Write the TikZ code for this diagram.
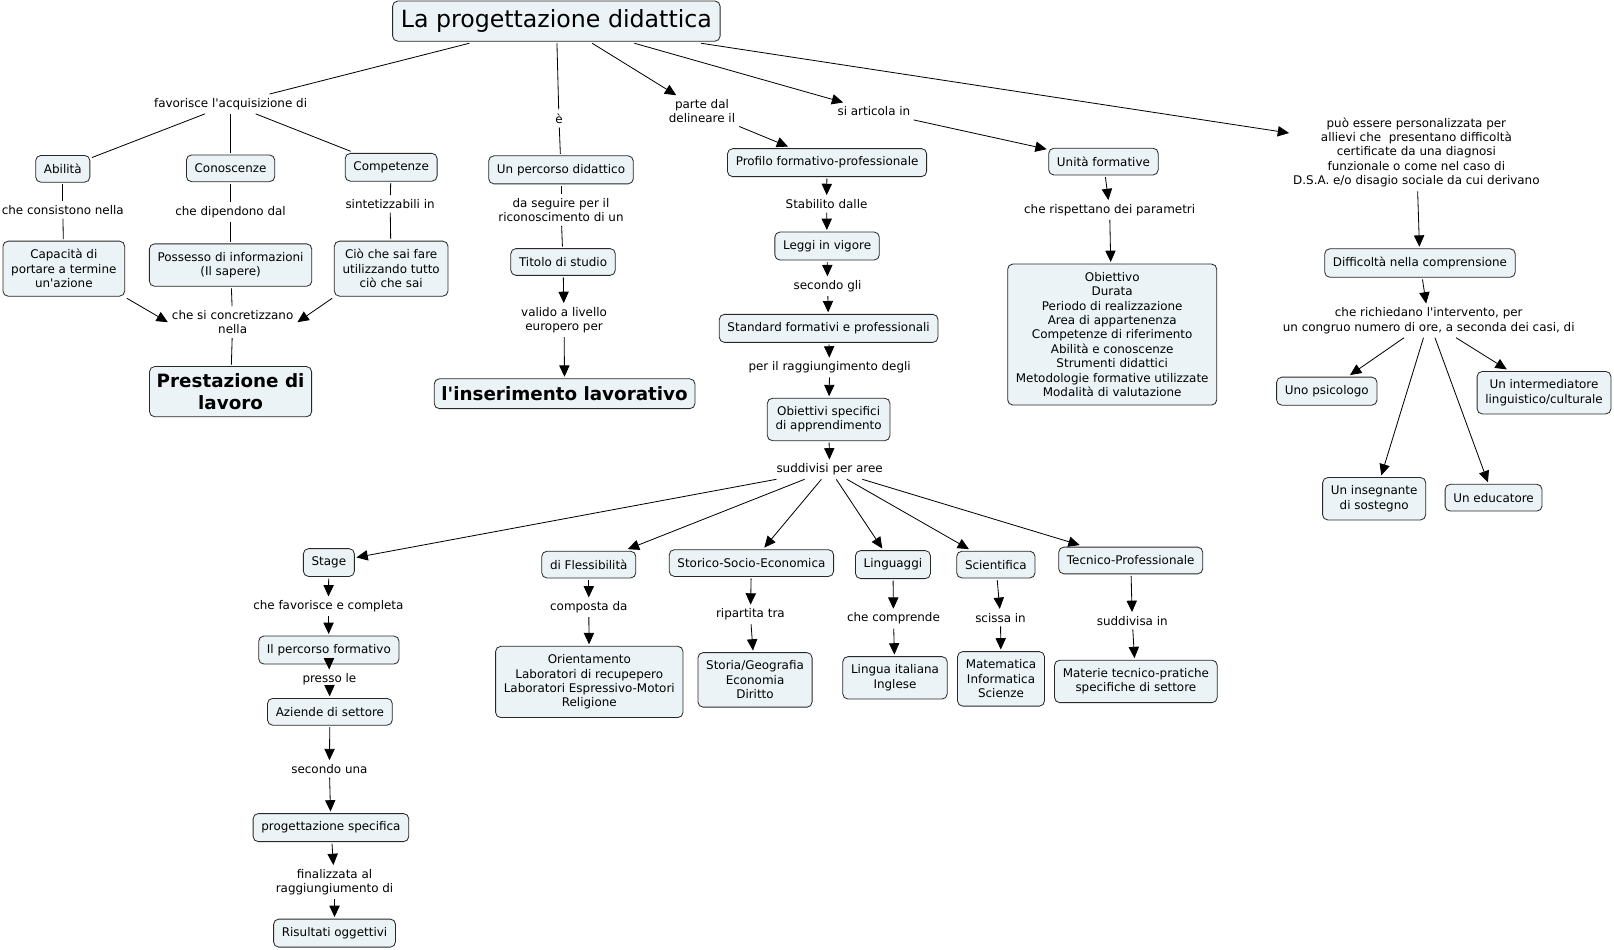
\documentclass[tikz,border=0pt]{standalone}
\usepackage{fontspec}
\setmainfont{DejaVu Sans}
\usepackage{tikz}
\usetikzlibrary{arrows.meta,positioning}
\definecolor{boxfill}{RGB}{235,243,246}
\definecolor{boxline}{RGB}{40,40,40}
\tikzset{
  concept/.style={draw=boxline,line width=0.8pt,rounded corners=5pt,fill=boxfill,
    align=center,inner xsep=8pt,inner ysep=8pt,outer sep=2pt,minimum height=26pt,
    font=\fontsize{11.6}{14}\selectfont},
  titlebox/.style={concept,font=\fontsize{23}{27}\selectfont,minimum height=39pt,
    inner ysep=6pt},
  bigconcept/.style={concept,font=\fontsize{17.8}{21}\selectfont\bfseries,
    inner xsep=7pt,inner ysep=7pt,minimum height=29pt},
  linkword/.style={align=center,inner sep=3pt,outer sep=1pt,
    font=\fontsize{11.6}{14}\selectfont},
  link/.style={line width=0.8pt,draw=black},
  flow/.style={link,-{Triangle[length=11pt,width=10pt]}}
}
\newcommand{\apos}{\textquotesingle}

\begin{document}
\begin{tikzpicture}[x=1pt,y=-1pt]
  \useasboundingbox (0,0) rectangle (1568,922);
  \node[titlebox] (title) at (540.5,20.5) {La progettazione didattica};

  \node[linkword] (favorisce) at (224,101) {favorisce l\apos acquisizione di};
  \node[concept] (abilita) at (61,164) {Abilità};
  \node[concept] (conoscenze) at (224,163.5) {Conoscenze};
  \node[concept] (competenze) at (380,162.5) {Competenze};
  \node[linkword] (consistono) at (61,204) {che consistono nella};
  \node[linkword] (dipendono) at (224,206) {che dipendono dal};
  \node[linkword] (sintetizzabili) at (379,198) {sintetizzabili in};
  \node[concept] (capacita) at (62,261) {Capacità di\\portare a termine\\un\apos azione};
  \node[concept] (possesso) at (224,257.5) {Possesso di informazioni\\(Il sapere)};
  \node[concept] (ciochesai) at (380,261) {Ciò che sai fare\\utilizzando tutto\\ciò che sai};
  \node[linkword] (concretizzano) at (226,313) {che si concretizzano\\nella};
  \node[bigconcept] (prestazione) at (224,380.5) {Prestazione di\\lavoro};

  \node[linkword] (eword) at (543,115) {è};
  \node[concept] (percorso) at (545,165) {Un percorso didattico};
  \node[linkword] (seguire) at (545,204) {da seguire per il\\riconoscimento di un};
  \node[concept] (titolo) at (547,254.5) {Titolo di studio};
  \node[linkword] (valido) at (548,311) {valido a livello\\europero per};
  \node[bigconcept] (inserimento) at (548.5,382.5) {l\apos inserimento lavorativo};

  \node[linkword] (parte) at (682,108) {parte dal\\delineare il};
  \node[linkword] (articola) at (849,108) {si articola in};
  \node[concept] (profilo) at (803.5,158) {Profilo formativo-professionale};
  \node[linkword] (stabilito) at (803,198) {Stabilito dalle};
  \node[concept] (leggi) at (803.5,239) {Leggi in vigore};
  \node[linkword] (secondogli) at (804,278) {secondo gli};
  \node[concept] (standard) at (805,319) {Standard formativi e professionali};
  \node[linkword] (raggiungimento) at (806,357) {per il raggiungimento degli};
  \node[concept] (obiettivi) at (805,407.5) {Obiettivi specifici\\di apprendimento};
  \node[linkword] (suddivisi) at (806,456) {suddivisi per aree};

  \node[concept] (unita) at (1072,157) {Unità formative};
  \node[linkword] (rispettano) at (1078,204) {che rispettano dei parametri};
  \node[concept] (parametri) at (1080.5,325) {Obiettivo\\Durata\\Periodo di realizzazione\\
    Area di appartenenza\\Competenze di riferimento\\Abilità e conoscenze\\
    Strumenti didattici\\Metodologie formative utilizzate\\Modalità di valutazione};

  \node[linkword] (personalizzata) at (1376,148) {può essere personalizzata per\\
    allievi che\ \ presentano difficoltà\\certificate da una diagnosi\\
    funzionale o come nel caso di\\D.S.A. e/o disagio sociale da cui derivano};
  \node[concept] (difficolta) at (1379.5,255.5) {Difficoltà nella comprensione};
  \node[linkword] (richiedano) at (1388,311.5) {che richiedano l\apos intervento, per\\
    un congruo numero di ore, a seconda dei casi, di};
  \node[concept] (psicologo) at (1289,380) {Uno psicologo};
  \node[concept] (intermediatore) at (1500,381.5) {Un intermediatore\\linguistico/culturale};
  \node[concept] (insegnante) at (1335,484.5) {Un insegnante\\di sostegno};
  \node[concept] (educatore) at (1451,483.5) {Un educatore};

  \node[concept] (stage) at (319.5,546.5) {Stage};
  \node[linkword] (favcompleta) at (319,589) {che favorisce e completa};
  \node[concept] (percform) at (319.5,631.5) {Il percorso formativo};
  \node[linkword] (presso) at (320,660) {presso le};
  \node[concept] (aziende) at (320.5,691.5) {Aziende di settore};
  \node[linkword] (secondouna) at (320,747) {secondo una};
  \node[concept] (progspec) at (321.5,804) {progettazione specifica};
  \node[linkword] (finalizzata) at (325,857) {finalizzata al\\raggiungiumento di};
  \node[concept] (risultati) at (325,906.5) {Risultati oggettivi};

  \node[concept] (flessibilita) at (572,548.5) {di Flessibilità};
  \node[linkword] (composta) at (572,590) {composta da};
  \node[concept] (orientamento) at (572.5,662.5) {Orientamento\\Laboratori di recupepero\\
    Laboratori Espressivo-Motori\\Religione};
  \node[concept] (storico) at (730,547) {Storico-Socio-Economica};
  \node[linkword] (ripartita) at (729,597) {ripartita tra};
  \node[concept] (storia) at (733.5,660.5) {Storia/Geografia\\Economia\\Diritto};
  \node[concept] (linguaggi) at (867.5,548.5) {Linguaggi};
  \node[linkword] (comprende) at (868,601) {che comprende};
  \node[concept] (lingua) at (869.5,658.5) {Lingua italiana\\Inglese};
  \node[concept] (scientifica) at (967.5,548.5) {Scientifica};
  \node[linkword] (scissa) at (972,600) {scissa in};
  \node[concept] (matematica) at (972.5,659.5) {Matematica\\Informatica\\Scienze};
  \node[concept] (tecnico) at (1098.5,544.5) {Tecnico-Professionale};
  \node[linkword] (suddivisa) at (1100,603) {suddivisa in};
  \node[concept] (materie) at (1103.5,662) {Materie tecnico-pratiche\\specifiche di settore};

  \draw[link] (title) -- (favorisce);
  \draw[link] (favorisce) -- (abilita);
  \draw[link] (favorisce) -- (conoscenze);
  \draw[link] (favorisce) -- (competenze);
  \draw[link] (abilita) -- (consistono);
  \draw[link] (consistono) -- (capacita);
  \draw[link] (conoscenze) -- (dipendono);
  \draw[link] (dipendono) -- (possesso);
  \draw[link] (competenze) -- (sintetizzabili);
  \draw[link] (sintetizzabili) -- (ciochesai);
  \draw[flow] (capacita.south east) -- (concretizzano.west);
  \draw[flow] (ciochesai.south west) -- (concretizzano.east);
  \draw[link] (possesso) -- (concretizzano);
  \draw[link] (concretizzano) -- (prestazione);

  \draw[link] (title) -- (eword);
  \draw[link] (eword) -- (percorso);
  \draw[link] (percorso) -- (seguire);
  \draw[link] (seguire) -- (titolo);
  \draw[flow] (titolo) -- (valido);
  \draw[flow] (valido) -- (inserimento);

  \draw[flow] (title) -- (parte);
  \draw[flow] (parte) -- (profilo);
  \draw[flow] (profilo) -- (stabilito);
  \draw[flow] (stabilito) -- (leggi);
  \draw[flow] (leggi) -- (secondogli);
  \draw[flow] (secondogli) -- (standard);
  \draw[flow] (standard) -- (raggiungimento);
  \draw[flow] (raggiungimento) -- (obiettivi);
  \draw[flow] (obiettivi) -- (suddivisi);

  \draw[flow] (title) -- (articola);
  \draw[flow] (articola) -- (unita);
  \draw[flow] (unita) -- (rispettano);
  \draw[flow] (rispettano) -- (parametri);

  \draw[flow] (title) -- (personalizzata);
  \draw[flow] (personalizzata) -- (difficolta);
  \draw[flow] (difficolta) -- (richiedano);
  \draw[flow] (richiedano) -- (psicologo);
  \draw[flow] (richiedano) -- (intermediatore);
  \draw[flow] (richiedano) -- (insegnante);
  \draw[flow] (richiedano) -- (educatore);

  \draw[flow] (suddivisi) -- (stage);
  \draw[flow] (suddivisi) -- (flessibilita);
  \draw[flow] (suddivisi) -- (storico);
  \draw[flow] (suddivisi) -- (linguaggi);
  \draw[flow] (suddivisi) -- (scientifica);
  \draw[flow] (suddivisi) -- (tecnico);

  \draw[flow] (stage) -- (favcompleta);
  \draw[flow] (favcompleta) -- (percform);
  \draw[flow] (percform) -- (presso);
  \draw[flow] (presso) -- (aziende);
  \draw[flow] (aziende) -- (secondouna);
  \draw[flow] (secondouna) -- (progspec);
  \draw[flow] (progspec) -- (finalizzata);
  \draw[flow] (finalizzata) -- (risultati);

  \draw[flow] (flessibilita) -- (composta);
  \draw[flow] (composta) -- (orientamento);
  \draw[flow] (storico) -- (ripartita);
  \draw[flow] (ripartita) -- (storia);
  \draw[flow] (linguaggi) -- (comprende);
  \draw[flow] (comprende) -- (lingua);
  \draw[flow] (scientifica) -- (scissa);
  \draw[flow] (scissa) -- (matematica);
  \draw[flow] (tecnico) -- (suddivisa);
  \draw[flow] (suddivisa) -- (materie);
\end{tikzpicture}
\end{document}
